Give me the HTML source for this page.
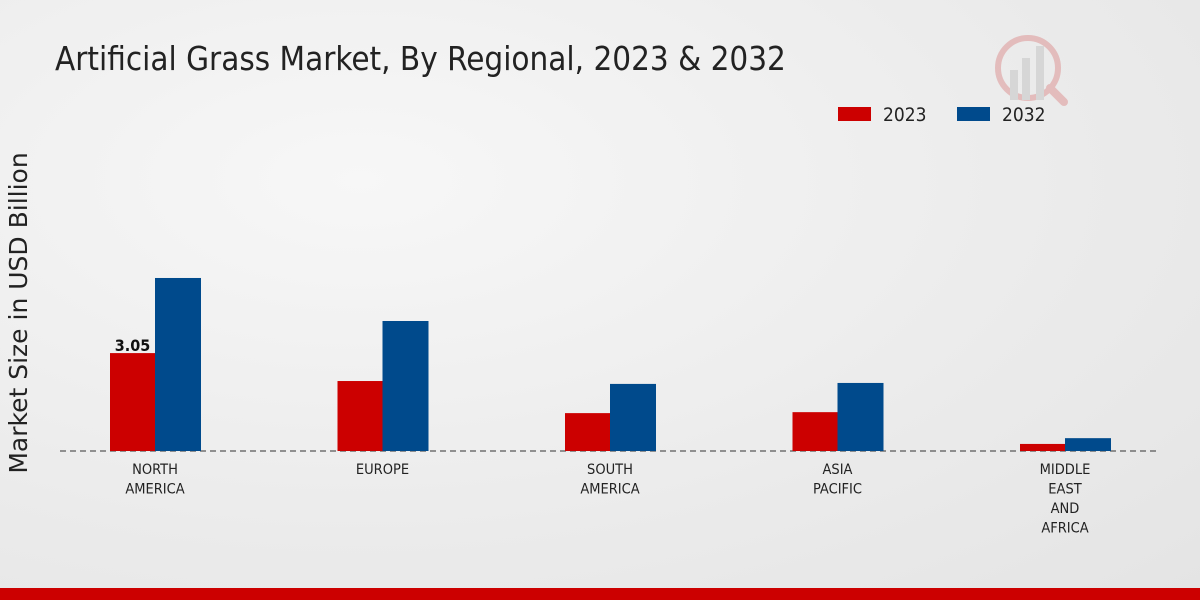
<!DOCTYPE html>
<html><head><meta charset="utf-8">
<style>
html,body{margin:0;padding:0;width:1200px;height:600px;overflow:hidden}
body{background:radial-gradient(ellipse at 30% 30%,#f7f7f7 0%,#ebebeb 60%,#e4e4e4 100%);font-family:"DejaVu Sans Condensed","DejaVu Sans","Liberation Sans",sans-serif;font-stretch:condensed}
svg text{font-family:"DejaVu Sans Condensed","DejaVu Sans","Liberation Sans",sans-serif;font-stretch:condensed}
svg text.wide{font-family:"DejaVu Sans","Liberation Sans",sans-serif;font-stretch:normal}
</style></head><body>
<svg width="1200" height="600">
<text x="55" y="70" font-size="32.9" fill="#222">Artificial Grass Market, By Regional, 2023 &amp; 2032</text>
<g opacity="0.25">
<circle cx="1028" cy="68" r="30" fill="none" stroke="#c33" stroke-width="6"/>
<rect x="1010" y="70" width="8" height="30" fill="#999"/><rect x="1022" y="58" width="8" height="42" fill="#999"/><rect x="1036" y="46" width="8" height="54" fill="#999"/>
<line x1="1050" y1="88" x2="1064" y2="102" stroke="#c33" stroke-width="8" stroke-linecap="round"/>
</g>
<g>
<rect x="838" y="107" width="33" height="14" fill="#cc0000"/>
<text x="883" y="121" font-size="19" fill="#222">2023</text>
<rect x="957" y="107" width="33" height="14" fill="#004a8c"/>
<text x="1002" y="121" font-size="19" fill="#222">2032</text>
</g>
<text class="wide" transform="translate(27,313) rotate(-90)" text-anchor="middle" font-size="25" fill="#222">Market Size in USD Billion</text>
<line x1="60" y1="451" x2="1160" y2="451" stroke="#333" stroke-dasharray="6,4" stroke-width="1"/>
<g id="bars"></g>
<rect x="0" y="588" width="1200" height="12" fill="#cc0000"/>
</svg>
<script>
const categories=[["NORTH","AMERICA"],["EUROPE"],["SOUTH","AMERICA"],["ASIA","PACIFIC"],["MIDDLE","EAST","AND","AFRICA"]];
const values2023=[3.05,2.18,1.18,1.21,0.22];
const values2032=[5.39,4.05,2.09,2.12,0.40];
const labels2023=["3.05","","","",""];
const NS="http://www.w3.org/2000/svg";
const g=document.getElementById('bars');
const base=451,scale=32.1,x0=155,step=227.5,bw=45;
const y=v=>base-v*scale;
const xc=i=>x0+i*step;
function mk(t,a){const e=document.createElementNS(NS,t);for(const k in a)e.setAttribute(k,a[k]);g.appendChild(e);return e;}
categories.forEach((c,i)=>{
 const r=mk('rect',{x:xc(i)-bw,y:y(values2023[i]),width:bw,height:values2023[i]*scale,fill:'#cc0000'});
 
 
 const b=mk('rect',{x:xc(i),y:y(values2032[i]),width:bw+1,height:values2032[i]*scale,fill:'#004a8c'});
 
 
 if(labels2023[i]){const t=mk('text',{x:xc(i)-bw/2,y:y(values2023[i])-2,'text-anchor':'middle','font-size':'16','font-weight':'bold',fill:'#111'});t.textContent=labels2023[i];
 
 }
 c.forEach((line,j)=>{const t=mk('text',{x:xc(i),y:474+j*19.5,'text-anchor':'middle','font-size':'14.5',fill:'#222'});t.textContent=line;
 
 });
});
</script>
</body></html>
